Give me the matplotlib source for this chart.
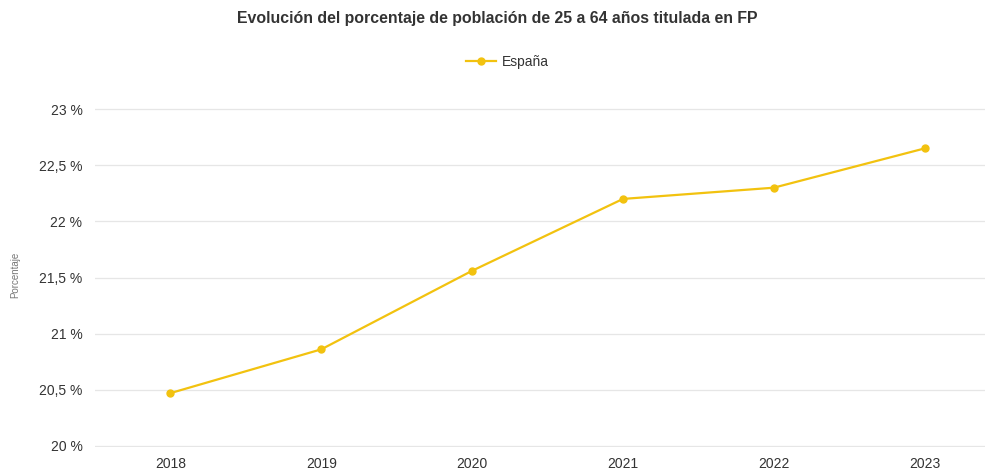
import matplotlib.pyplot as plt
from matplotlib.ticker import FuncFormatter

plt.rcParams['font.family'] = ['Liberation Sans', 'DejaVu Sans']

years = ['2018', '2019', '2020', '2021', '2022', '2023']
espana = [20.47, 20.86, 21.56, 22.20, 22.30, 22.65]
yticks = [20, 20.5, 21, 21.5, 22, 22.5, 23]

fig = plt.figure(figsize=(9.95, 4.72), dpi=100)
ax = fig.add_axes([95 / 995, 25 / 472, 890 / 995, 339 / 472])

x = list(range(len(years)))
ax.plot(x, espana, color='#f2c20f', lw=1.6, marker='o', ms=5, label='España')

ax.set_xlim(-0.5, 5.4)
ax.set_ylim(19.99, 23.01)
ax.set_xticks(x)
ax.set_xticklabels(years)
ax.set_yticks(yticks)

def fmt(v, pos):
    s = ('%g' % v).replace('.', ',')
    return s + ' %'

ax.yaxis.set_major_formatter(FuncFormatter(fmt))
ax.grid(axis='y', color='#e6e6e6', lw=0.9)
ax.set_axisbelow(True)
for s in ax.spines.values():
    s.set_visible(False)
ax.tick_params(axis='both', length=0, labelsize=10, colors='#333333')
ax.tick_params(axis='y', pad=9)
ax.tick_params(axis='x', pad=7)

fig.text(15 / 995, 1 - 275 / 472, 'Porcentaje', rotation=90, ha='center', va='center',
         fontsize=7, color='#777777')

fig.text(0.5, 1 - 18 / 472, 'Evolución del porcentaje de población de 25 a 64 años titulada en FP',
         ha='center', va='center', fontsize=11.4, fontweight='bold', color='#333333')

fig.legend(loc='center', bbox_to_anchor=(0.51, 1 - 62 / 472), frameon=False,
           fontsize=10, handlelength=2.2, handletextpad=0.4, labelcolor='#333333')

fig.savefig('out.png', dpi=100)
